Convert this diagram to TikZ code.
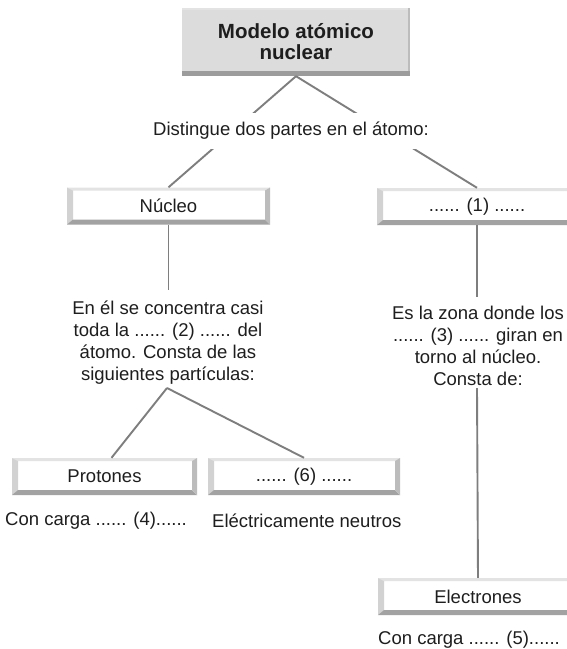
\documentclass[tikz,border=0pt]{standalone}
\usepackage{fontspec}
\setmainfont{Liberation Sans}
\definecolor{linec}{HTML}{7E7E7E}
\definecolor{bevtop}{HTML}{E3E3E3}
\definecolor{bevleft}{HTML}{D2D2D2}
\definecolor{bevbot}{HTML}{A2A2A2}
\definecolor{bevright}{HTML}{BCBCBC}
\definecolor{titlefill}{HTML}{DCDCDC}
\definecolor{titlebot}{HTML}{9C9C9C}
\definecolor{txtc}{HTML}{1E1E1E}
\tikzset{
  conn/.style={draw=linec, line width=1.9pt},
  txt/.style={font=\fontsize{18.5}{22}\selectfont, text=txtc, inner sep=0pt, align=center},
  bevbox/.style={fill=white, draw=none, inner sep=0pt, minimum height=37pt, text=txtc,
    font=\fontsize{18.5}{22}\selectfont,
    path picture={
      \fill[bevtop] (path picture bounding box.north west) -- (path picture bounding box.north east)
        -- ([xshift=-5pt,yshift=-3pt]path picture bounding box.north east)
        -- ([xshift=6pt,yshift=-3pt]path picture bounding box.north west) -- cycle;
      \fill[bevleft] (path picture bounding box.north west) -- ([xshift=6pt,yshift=-3pt]path picture bounding box.north west)
        -- ([xshift=6pt,yshift=5pt]path picture bounding box.south west)
        -- (path picture bounding box.south west) -- cycle;
      \fill[bevbot] (path picture bounding box.south west) -- ([xshift=6pt,yshift=5pt]path picture bounding box.south west)
        -- ([xshift=-5pt,yshift=5pt]path picture bounding box.south east)
        -- (path picture bounding box.south east) -- cycle;
      \fill[bevright] (path picture bounding box.north east) -- (path picture bounding box.south east)
        -- ([xshift=-5pt,yshift=5pt]path picture bounding box.south east)
        -- ([xshift=-5pt,yshift=-3pt]path picture bounding box.north east) -- cycle;
    }},
  titlebox/.style={fill=titlefill, draw=none, inner sep=0pt, align=center, text=txtc,
    font=\bfseries\fontsize{20.5}{22}\selectfont,
    path picture={
      \fill[bevtop] (path picture bounding box.north west) rectangle ([yshift=-2pt]path picture bounding box.north east);
      \fill[titlebot] ([yshift=5pt]path picture bounding box.south west) rectangle (path picture bounding box.south east);
      \fill[bevright] (path picture bounding box.north east) rectangle ([xshift=-2pt,yshift=5pt]path picture bounding box.south east);
    }}
}
\begin{document}
\begin{tikzpicture}[x=1pt,y=-1pt]
\useasboundingbox[fill=white] (0,0) rectangle (567,649);

% boxes
\node[titlebox, minimum width=228pt, minimum height=68pt] (title) at (296,42) {Modelo atómico\\[-1pt]nuclear};
\node[bevbox, minimum width=203pt] (nucleo) at (168.5,206) {Núcleo};
\node[bevbox, minimum width=200pt] (uno) at (477,206.5) {...... (1) ......};
\node[bevbox, minimum width=185pt] (protones) at (104.5,476.5) {Protones};
\node[bevbox, minimum width=192pt] (seis) at (304,476.5) {...... (6) ......};
\node[bevbox, minimum width=200pt] (electrones) at (478,596.5) {Electrones};

% free ends of connectors
\coordinate (ntail) at (168.5,290);
\coordinate (nsplit) at (167,388);
\coordinate (utail) at (477,297);
\coordinate (usplit) at (477,388);

% connectors
\draw[conn] (title.south) -- (nucleo.north);
\draw[conn] (title.south) -- (uno.north);
\draw[conn] (nucleo.south) -- (ntail);
\draw[conn] (nsplit) -- ([xshift=7pt]protones.north);
\draw[conn] (nsplit) -- (seis.north);
\draw[conn] (uno.south) -- (utail);
\draw[conn] (usplit) -- (electrones.north);

% texts
\node[txt, fill=white, inner xsep=3pt, inner ysep=9pt] (distingue) at (291,131) {Distingue dos partes en el átomo:};
\node[txt] (entext) at (168,343) {En él se concentra casi\\toda la ...... (2) ...... del\\átomo. Consta de las\\siguientes partículas:};
\node[txt] (estext) at (478,346) {Es la zona donde los\\...... (3) ...... giran en\\torno al núcleo.\\Consta de:};
\node[txt, anchor=west] (carga4) at (5,521) {Con carga ...... (4)......};
\node[txt, anchor=west] (neutros) at (212,521) {Eléctricamente neutros};
\node[txt, anchor=west] (carga5) at (378,640) {Con carga ...... (5)......};
\end{tikzpicture}
\end{document}
